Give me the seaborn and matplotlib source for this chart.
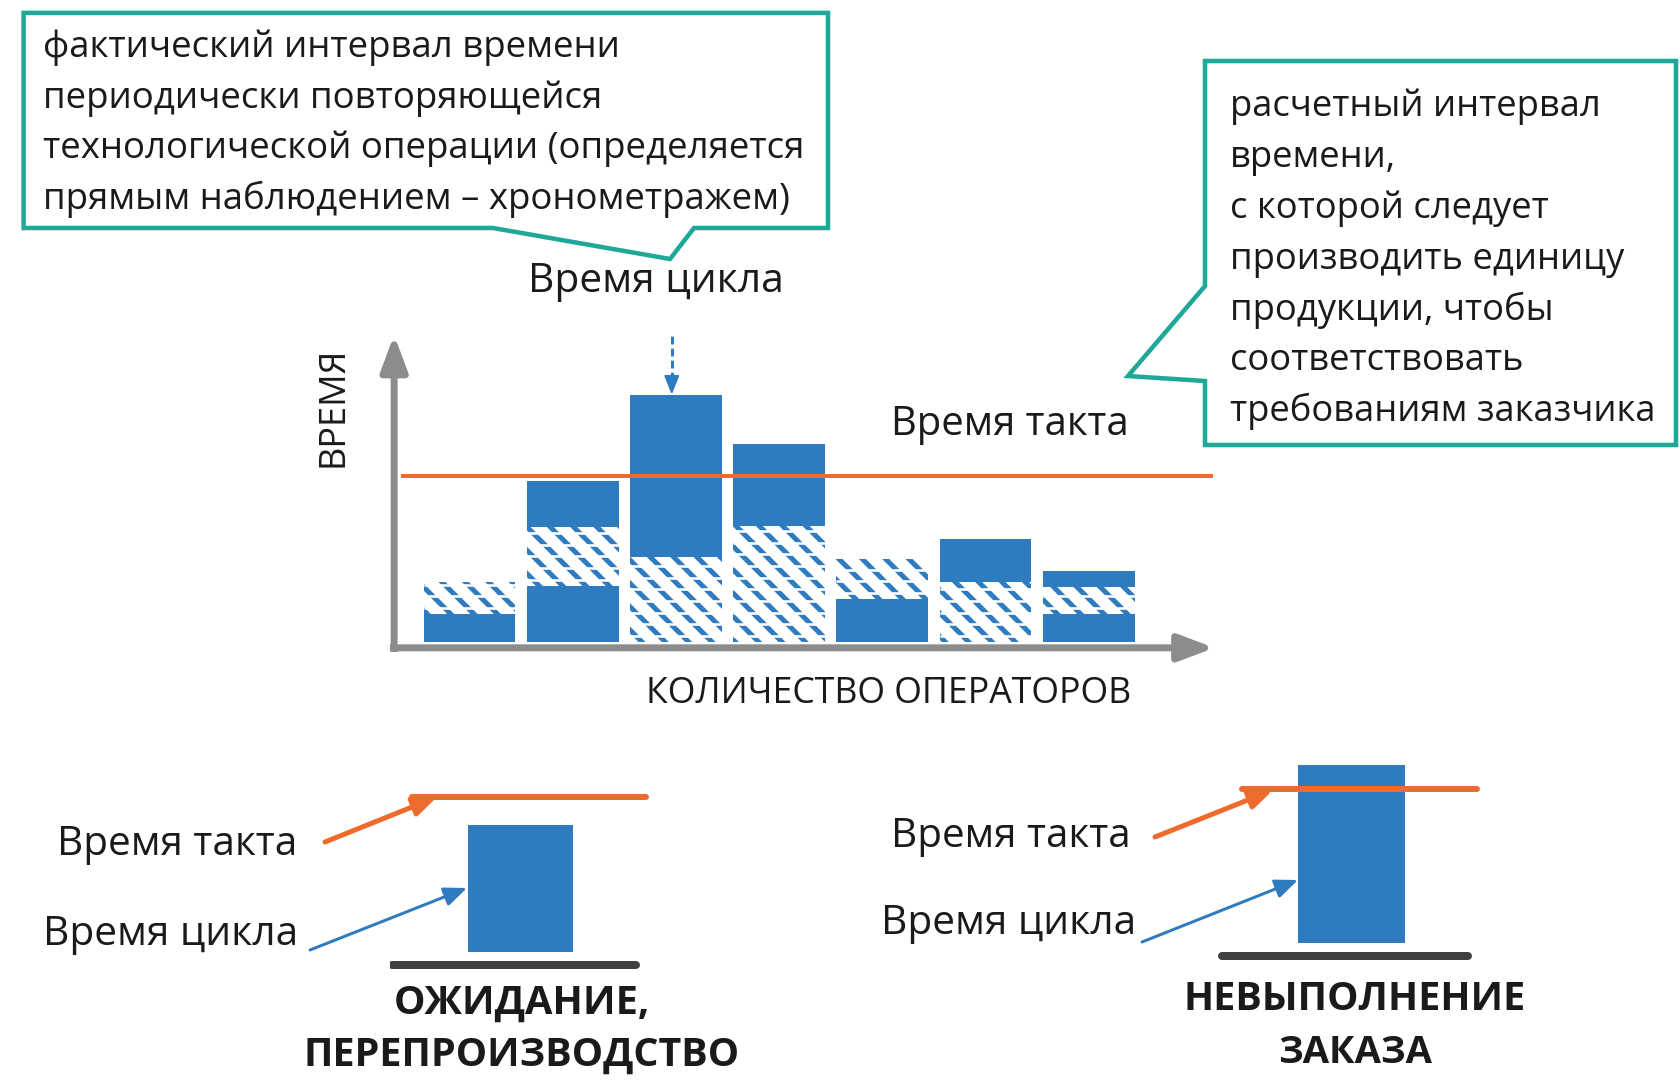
import numpy as np
import pandas as pd
import seaborn as sns
import matplotlib.pyplot as plt
from matplotlib.patches import Polygon

# ---- data ----
operators = [1, 2, 3, 4, 5, 6, 7]
# stacked parts of each operator bar, bottom to top (True = hatched part)
part1 = [1.7, 3.4, 5.1, 7.0, 2.6, 3.6, 1.7]
part1_hatched = [False, False, True, True, False, True, False]
part2 = [1.9, 3.5, 9.8, 4.9, 2.4, 2.6, 1.6]
part2_hatched = [True, True, False, False, True, False, True]
part3 = [0.0, 2.8, 0.0, 0.0, 0.0, 0.0, 1.0]
part3_hatched = [False, False, False, False, False, False, False]
takt_time = 10.0

case_names = ["ОЖИДАНИЕ,\nПЕРЕПРОИЗВОДСТВО", "НЕВЫПОЛНЕНИЕ\nЗАКАЗА"]
case_cycle = [8.2, 11.6]

callout_cycle = ["фактический интервал времени",
                 "периодически повторяющейся",
                 "технологической операции (определяется",
                 "прямым наблюдением – хронометражем)"]
callout_takt = ["расчетный интервал", "времени,", "с которой следует",
                "производить единицу", "продукции, чтобы", "соответствовать",
                "требованиям заказчика"]
label_cycle = "Время цикла"
label_takt = "Время такта"
label_y = "ВРЕМЯ"
label_x = "КОЛИЧЕСТВО ОПЕРАТОРОВ"

BLUE = "#2E7BC0"
ORANGE = "#EE6B2D"
TEAL = "#1FA898"
GREY = "#8C8C8C"
DARK = "#404040"
INK = "#1A1A1A"

sns.set_theme(style="white")
plt.rcParams['font.family'] = ['Open Sans', 'DejaVu Sans']

W, H, DPI = 1680, 1080, 140
fig = plt.figure(figsize=(W / DPI, H / DPI), dpi=DPI)
fig.patch.set_facecolor("white")


def pt(p):
    # pixels -> points
    return p * 72 / DPI


plt.rcParams['hatch.linewidth'] = pt(5)


def add_px_axes(x0, y0, x1, y1):
    return fig.add_axes([x0 / W, 1 - y1 / H, (x1 - x0) / W, (y1 - y0) / H])


# ---- main chart ----
ax = add_px_axes(386.9, 333.2, 1222.9, 655.3)
ax.set_xlim(0.2, 8.3)
ax.set_ylim(-0.8, 18.6)
ax.axis("off")

bar_w = 0.89
gap_step = 0.705  # white breaks that cut the hatch stripes into dashes
bottom = np.zeros(len(operators))
for heights, hatched in [(part1, part1_hatched), (part2, part2_hatched), (part3, part3_hatched)]:
    for x, h, b, hat in zip(operators, heights, bottom, hatched):
        if h == 0:
            continue
        if hat:
            ax.bar(x, h, bottom=b, width=bar_w, color="white", edgecolor=BLUE,
                   hatch="\\\\", linewidth=0)
            ys = np.arange(b + gap_step / 2, b + h, gap_step)
            ax.hlines(ys, x - bar_w / 2, x + bar_w / 2, color="white", lw=pt(2.6), zorder=3)
        else:
            ax.bar(x, h, bottom=b, width=bar_w, color=BLUE, linewidth=0)
    bottom += np.array(heights)

# takt line
ax.hlines(takt_time, 0.34, 8.2, color=ORANGE, lw=pt(4), zorder=4)

# axes arrows
arrow_kw = dict(arrowstyle="-|>,head_length=0.75,head_width=0.28", color=GREY, lw=pt(7),
                mutation_scale=pt(40), shrinkA=0, shrinkB=0, capstyle="butt")
ax.annotate("", xy=(0.27, 18.5), xytext=(0.27, -0.6), arrowprops=arrow_kw, annotation_clip=False)
ax.annotate("", xy=(8.22, -0.35), xytext=(0.23, -0.35), arrowprops=arrow_kw, annotation_clip=False)

# dashed arrow pointing at the highest bar
i_max = int(np.argmax(bottom))
top = bottom[i_max]
ax.plot([operators[i_max] - 0.04] * 2, [top + 0.9, 18.5], color=BLUE, lw=pt(3),
        ls=(0, (2.6, 1.4)), solid_capstyle="butt", dash_capstyle="butt")
ax.annotate("", xy=(operators[i_max] - 0.04, top), xytext=(operators[i_max] - 0.04, top + 1.0),
            arrowprops=dict(arrowstyle="-|>,head_length=0.8,head_width=0.32", color=BLUE,
                            lw=pt(2), mutation_scale=pt(20), shrinkA=0, shrinkB=0))

# ---- two small case panels ----
ground_y = -0.85
panels = [
    dict(box=(390, 781.7, 650, 970.2), ylim=(-1.2, 11.0), xc=520.6, unit=132.0,
         takt=(0.085, 0.985), base=(0.008, 0.946)),
    dict(box=(1215, 755.4, 1485, 966.4), ylim=(-1.5, 12.2), xc=1351.6, unit=133.4,
         takt=(0.099, 0.971), base=(0.027, 0.938)),
]
for name, cyc, pn in zip(case_names, case_cycle, panels):
    x0, y0, x1, y1 = pn["box"]
    sax = add_px_axes(x0, y0, x1, y1)
    df = pd.DataFrame({"case": [name], "cycle": [cyc]})
    sns.barplot(data=df, x="case", y="cycle", color=BLUE, saturation=1, width=0.8,
                linewidth=0, ax=sax)
    sax.set_xlim((x0 - pn["xc"]) / pn["unit"], (x1 - pn["xc"]) / pn["unit"])
    sax.set_ylim(*pn["ylim"])
    sax.axhline(takt_time, pn["takt"][0], pn["takt"][1], color=ORANGE, lw=pt(6), zorder=5)
    sax.axhline(ground_y, pn["base"][0], pn["base"][1], color=DARK, lw=pt(8), zorder=5)
    sax.axis("off")

# ---- overlay in pixel coordinates for callouts and labels ----
ov = fig.add_axes([0, 0, 1, 1])
ov.set_xlim(0, W)
ov.set_ylim(H, 0)
ov.axis("off")
ov.patch.set_visible(False)
ov.set_zorder(10)

ov.add_patch(Polygon([(23.6, 12.9), (828, 12.9), (828, 228), (694, 228), (670, 259),
                      (493, 228), (23.6, 228)], closed=True, facecolor="white",
                     edgecolor=TEAL, lw=pt(4.5), joinstyle="miter"))
ov.add_patch(Polygon([(1205, 61), (1676, 61), (1676, 445), (1205, 445), (1205, 381),
                      (1128, 376), (1205, 286)], closed=True, facecolor="white",
                     edgecolor=TEAL, lw=pt(4.5), joinstyle="miter"))

renderer = fig.canvas.get_renderer()


def fit(texts, target, ref=None):
    r = texts[ref] if ref is not None else max(texts, key=lambda t: t.get_window_extent(renderer).width)
    f = target / r.get_window_extent(renderer).width
    for t in texts:
        t.set_fontsize(t.get_fontsize() * f)


t1 = [ov.text(43, 57 + i * 50.6, s, fontsize=20, color=INK, ha="left", va="baseline")
      for i, s in enumerate(callout_cycle)]
fit(t1, 763)
t2 = [ov.text(1230, 116 + i * 50.9, s, fontsize=20, color=INK, ha="left", va="baseline")
      for i, s in enumerate(callout_takt)]
fit(t2, 425)

fit([ov.text(656, 282, label_cycle, fontsize=20, color=INK, ha="center", va="center")], 256)
fit([ov.text(1010, 425, label_takt, fontsize=20, color=INK, ha="center", va="center")], 238)
fit([ov.text(889, 694, label_x, fontsize=20, color=INK, ha="center", va="center")], 484)
ty = ov.text(333, 407, label_y, fontsize=20, color=INK, ha="center", va="center", rotation=90)
ty.set_fontsize(20 * 120 / ty.get_window_extent(renderer).height)

# small panel labels and arrows
fit([ov.text(297, 845, label_takt, fontsize=20, color=INK, ha="right", va="center")], 240)
fit([ov.text(298, 935, label_cycle, fontsize=20, color=INK, ha="right", va="center")], 255)
fit([ov.text(1131, 837, label_takt, fontsize=20, color=INK, ha="right", va="center")], 239)
fit([ov.text(1136, 924, label_cycle, fontsize=20, color=INK, ha="right", va="center")], 255)

case_pos = [(522, 1003, 1055, 257, 436), (1355, 1000, 1053, 342, 154)]
for name, (cx, ya, yb, wa, wb) in zip(case_names, case_pos):
    la, lb = name.split("\n")
    fit([ov.text(cx, ya, la, fontsize=20, fontweight="bold", color=INK, ha="center", va="center")], wa)
    fit([ov.text(cx, yb, lb, fontsize=20, fontweight="bold", color=INK, ha="center", va="center")], wb)

small_arrow = "-|>,head_length=0.6,head_width=0.25"
for (xa, ya), (xb, yb), col, lw in [((325, 842), (437, 797), ORANGE, 5),
                                    ((310, 950), (467, 888), BLUE, 3),
                                    ((1155, 837), (1273, 790), ORANGE, 5),
                                    ((1142, 942), (1298, 880), BLUE, 3)]:
    ov.annotate("", xy=(xb, yb), xytext=(xa, ya),
                arrowprops=dict(arrowstyle=small_arrow, color=col, lw=pt(lw),
                                mutation_scale=pt(32), shrinkA=0, shrinkB=0))

fig.savefig("out.png", dpi=DPI, facecolor="white")
